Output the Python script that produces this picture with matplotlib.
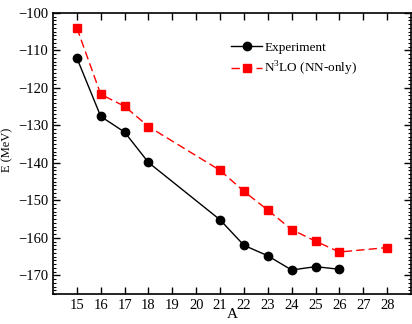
import matplotlib
matplotlib.use("Agg")
import matplotlib.pyplot as plt
from matplotlib.ticker import MultipleLocator

plt.rcParams['font.family'] = ['Liberation Serif', 'DejaVu Serif']
plt.rcParams['mathtext.fontset'] = 'custom'
plt.rcParams['mathtext.rm'] = 'Liberation Serif'

A_exp = [15, 16, 17, 18, 21, 22, 23, 24, 25, 26]
E_exp = [-112.0, -127.6, -131.8, -139.9, -155.2, -162.0, -164.8, -168.6, -167.7, -168.4]
A_th = [15, 16, 17, 18, 21, 22, 23, 24, 25, 26, 28]
E_th = [-104.0, -121.7, -124.9, -130.3, -142.0, -147.6, -152.6, -157.8, -160.9, -163.8, -162.6]
xticks = list(range(15, 29))
yticks = list(range(-170, -99, 10))

fig = plt.figure(figsize=(4.12, 3.24), dpi=100)
ax = fig.add_axes([53/412, 30/324, 358/412, 281/324])
ax.plot(A_exp, E_exp, '-', color='black', lw=1, marker='o', ms=6, label='Experiment')
ax.plot(A_th, E_th, '--', color='red', lw=1, marker='s', ms=5.5, dashes=(6, 3),
        label=r'N$^3$LO (NN-only)')
ax.set_xlim(14, 29)
ax.set_ylim(-175, -100)
ax.set_xticks(xticks)
ax.set_yticks(yticks)
ax.yaxis.set_minor_locator(MultipleLocator(1))
ax.tick_params(direction='in', which='major', length=5, width=1, labelsize=10.5,
               top=True, right=True)
ax.tick_params(direction='in', which='minor', length=2.5, width=0.8, left=True, right=True)
for s in ax.spines.values():
    s.set_linewidth(1.2)
ax.set_xlabel('A', fontsize=11, labelpad=-2.5)
ax.set_ylabel('E (MeV)', fontsize=9)
ax.yaxis.set_label_coords(-0.11, 0.512)
leg = ax.legend(loc='upper left', bbox_to_anchor=(0.465, 0.94), frameon=False,
                fontsize=9.5, handlelength=2.3, handletextpad=0.2, labelspacing=0.4)
fig.savefig('out.png', dpi=100)
